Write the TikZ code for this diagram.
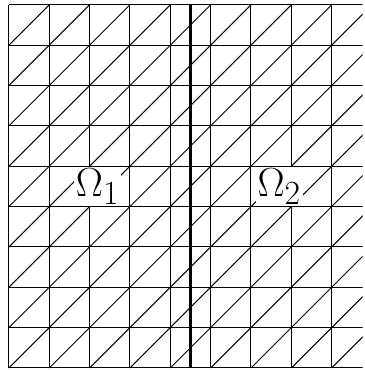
\documentclass[tikz,border=0pt]{standalone}
\usepackage{amsmath}
\usepackage{amssymb}
\usepackage{tikz}
\usetikzlibrary{calc,positioning}

\begin{document}
\begin{tikzpicture}[mesh/.style={line width=0.7pt},interface/.style={line width=1.5pt},domlabel/.style={fill=white,inner sep=1pt,font=\Huge,scale=1.15,transform shape}]
	\useasboundingbox (-0.22,-0.05) rectangle (8.82,9.12);
	\clip (-0.22,-0.05) rectangle (8.77,9.12);

	% grid lines
	\foreach \i in {0,...,9} {
		\draw[mesh] (\i,0) -- (\i,9);
		\draw[mesh] (0,\i) -- (9,\i);
	}
	% diagonals
	\foreach \i in {0,...,8} {
		\foreach \j in {0,...,8} {
			\draw[mesh] (\i,\j) -- (\i+1,\j+1);
		}
	}

	% interface
	\coordinate (top) at (4.5,9);
	\coordinate (bot) at (4.5,0);
	\draw[interface] (bot) -- (top);

	\node[domlabel] (om1) at (2.2,4.5) {$\Omega_1$};
	\node[domlabel] (om2) at (6.7,4.5) {$\Omega_2$};
\end{tikzpicture}
\end{document}
